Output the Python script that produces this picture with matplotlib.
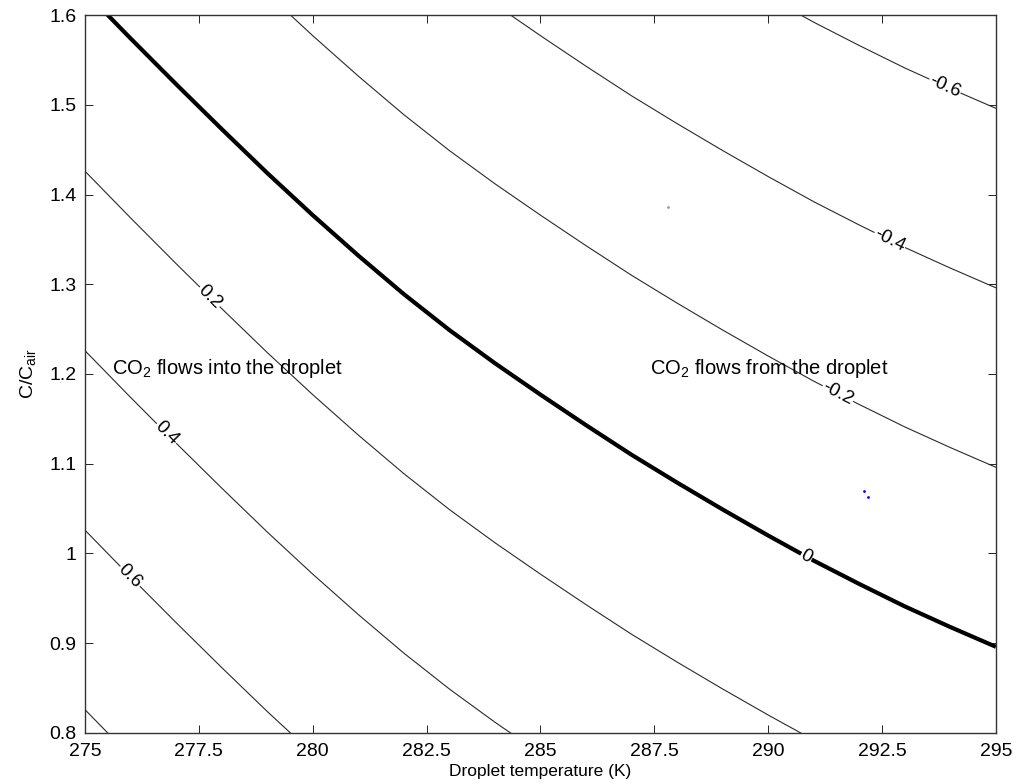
import numpy as np
import matplotlib
matplotlib.use("Agg")
import matplotlib.pyplot as plt

plt.rcParams["font.family"] = ["Liberation Sans", "DejaVu Sans"]
plt.rcParams["mathtext.fontset"] = "custom"
plt.rcParams["mathtext.rm"] = "Liberation Sans"
plt.rcParams["mathtext.it"] = "Liberation Sans:italic"

# Zero-flux curve: equilibrium C/C_air against droplet temperature (K)
T_ZERO = [275.0, 276.0, 277.0, 278.0, 279.0, 280.0, 281.0, 282.0, 283.0, 284.0, 285.0,
          286.0, 287.0, 288.0, 289.0, 290.0, 291.0, 292.0, 293.0, 294.0, 295.0]
C_ZERO = [1.626, 1.574, 1.523, 1.473, 1.424, 1.377, 1.332, 1.289, 1.249, 1.212, 1.177,
          1.143, 1.110, 1.079, 1.049, 1.020, 0.992, 0.966, 0.941, 0.918, 0.896]

# flux levels; each contour sits at C = C_zero(T) - level
LEVELS = [0.8, 0.6, 0.4, 0.2, 0.0, -0.2, -0.4, -0.6]
LABELS = ["", "0.6", "0.4", "0.2", "0", "-0.2", "-0.4", "-0.6"]
LABEL_T = [None, 275.99, 276.79, 277.74, 290.84, 291.53, 292.67, 293.88]

# odd stray points in the field
STRAY_GREY = ([287.79], [1.3857])
STRAY_BLUE = ([292.11, 292.19], [1.070, 1.063])

T_TICKS = [275, 277.5, 280, 282.5, 285, 287.5, 290, 292.5, 295]
T_TICK_LABELS = ["275", "277.5", "280", "282.5", "285", "287.5", "290", "292.5", "295"]
C_TICKS = [0.8, 0.9, 1.0, 1.1, 1.2, 1.3, 1.4, 1.5, 1.6]
C_TICK_LABELS = ["0.8", "0.9", "1", "1.1", "1.2", "1.3", "1.4", "1.5", "1.6"]

fig = plt.figure(figsize=(10.14, 7.83), dpi=100)
ax = fig.add_axes([0.0838, 0.0639, 0.8984, 0.9169])

t = np.array(T_ZERO)
c0 = np.array(C_ZERO)

for level, text, tl in zip(LEVELS, LABELS, LABEL_T):
    lw = 3.0 if level == 0 else 0.8
    col = "black" if level == 0 else "#2a2a2a"
    ax.plot(t, c0 - level, color=col, lw=lw, solid_capstyle="butt")
    if tl is None:
        continue
    yl = np.interp(tl, t, c0) - level
    slope = (np.interp(tl + 0.2, t, c0) - np.interp(tl - 0.2, t, c0)) / 0.4
    ax.text(tl, yl, text, fontsize=13.5, ha="center", va="center",
            rotation=np.degrees(np.arctan(slope)), transform_rotates_text=True,
            rotation_mode="anchor",
            bbox=dict(facecolor="white", edgecolor="none", pad=0.5), zorder=3)

ax.plot(*STRAY_GREY, ls="none", marker="o", ms=2.0, color="#999999", mec="none")
ax.plot(*STRAY_BLUE, ls="none", marker="o", ms=2.0, color="blue", mec="none")

ax.text(275.6, 1.2, "CO$_2$ flows into the droplet", fontsize=14.5, va="baseline")
ax.text(287.4, 1.2, "CO$_2$ flows from the droplet", fontsize=14.5, va="baseline")

ax.set_xlim(275, 295)
ax.set_ylim(0.8, 1.6)
ax.set_xticks(T_TICKS)
ax.set_xticklabels(T_TICK_LABELS)
ax.set_yticks(C_TICKS)
ax.set_yticklabels(C_TICK_LABELS)
ax.tick_params(direction="in", length=6, width=0.7, labelsize=14, top=True, right=True,
               colors="#222222", labelcolor="black")
ax.tick_params(axis="x", pad=7)
ax.tick_params(axis="y", pad=6)
for sp in ax.spines.values():
    sp.set_linewidth(1.0)
    sp.set_color("#333333")

ax.set_xlabel("Droplet temperature (K)", fontsize=12.5, labelpad=3)
ax.set_ylabel("C/C$_\\mathrm{air}$", fontsize=14, labelpad=8)

fig.savefig("out.png", dpi=100)
